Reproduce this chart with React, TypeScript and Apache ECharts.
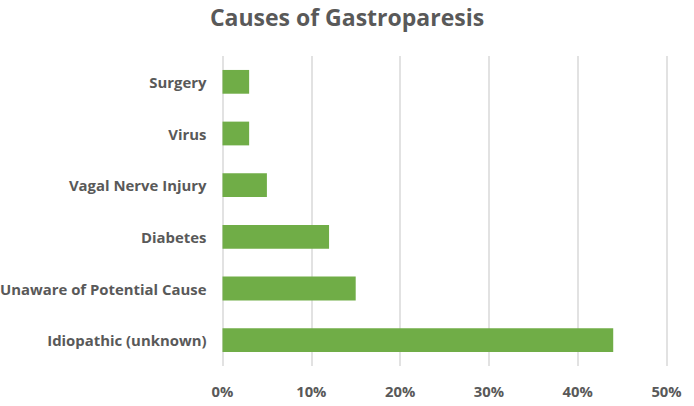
import React, { useEffect, useRef } from "react";
import * as echarts from "echarts";

const categories = [
  "Surgery",
  "Virus",
  "Vagal Nerve Injury",
  "Diabetes",
  "Unaware of Potential Cause",
  "Idiopathic (unknown)",
];
const values = [3, 3, 5, 12, 15, 44];
const xTicks = { min: 0, max: 50, interval: 10 };

export default function App() {
  const ref = useRef<HTMLDivElement>(null);
  useEffect(() => {
    document.body.style.margin = "0";
    const chart = echarts.init(ref.current!, null, { renderer: "svg" });
    const font = "'Open Sans', sans-serif";
    chart.setOption({
      animation: false,
      backgroundColor: "#ffffff",
      title: {
        text: "Causes of Gastroparesis",
        left: "center",
        top: 0,
        textStyle: { fontFamily: font, fontWeight: "bold", fontSize: 23, color: "#595959" },
      },
      grid: {
        left: 222.5,
        right: 27.5,
        top: 56,
        bottom: 40,
        containLabel: false,
        outerBoundsMode: "none",
      },
      xAxis: {
        type: "value",
        min: xTicks.min,
        max: xTicks.max,
        interval: xTicks.interval,
        axisLine: { show: false },
        axisTick: { show: false },
        splitLine: { show: true, lineStyle: { color: "#d9d9d9", width: 1.5 } },
        axisLabel: {
          formatter: "{value}%",
          margin: 17,
          fontFamily: font,
          fontWeight: "bold",
          fontSize: 14.8,
          color: "#595959",
        },
      },
      yAxis: {
        type: "category",
        data: categories,
        inverse: true,
        axisLine: { show: false },
        axisTick: { show: false },
        splitLine: { show: false },
        axisLabel: {
          margin: 16,
          fontFamily: font,
          fontWeight: "bold",
          fontSize: 14.9,
          color: "#595959",
        },
      },
      series: [
        {
          type: "bar",
          data: values,
          barCategoryGap: "54%",
          itemStyle: { color: "#70AD47" },
        },
      ],
    });
    return () => chart.dispose();
  }, []);
  return <div ref={ref} style={{ width: 694, height: 406 }} />;
}
